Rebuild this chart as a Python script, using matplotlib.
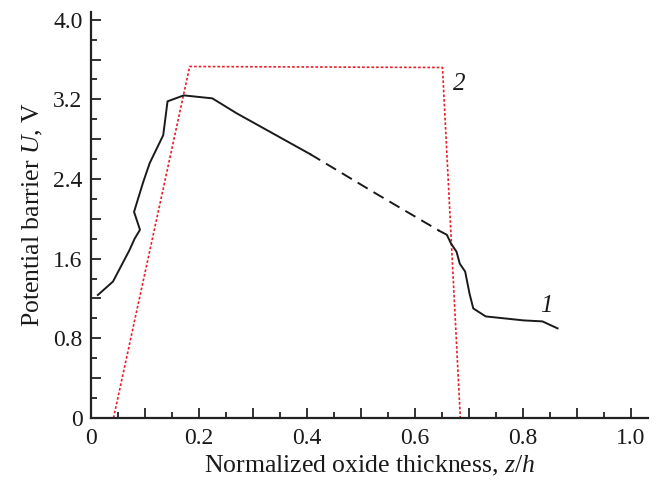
import matplotlib
matplotlib.use("Agg")
import matplotlib.pyplot as plt
from matplotlib.ticker import MultipleLocator, FuncFormatter

plt.rcParams["font.family"] = ["Liberation Serif"]
plt.rcParams["mathtext.fontset"] = "custom"
plt.rcParams["mathtext.rm"] = "Liberation Serif"
plt.rcParams["mathtext.it"] = "Liberation Serif:italic"

# Curve 1: computed potential barrier (solid, dashed middle part, solid)
z1_a = [0.013, 0.041, 0.071, 0.081, 0.091, 0.080, 0.097, 0.109, 0.134, 0.142,
        0.172, 0.225, 0.270, 0.406]
u1_a = [1.235, 1.37, 1.68, 1.80, 1.89, 2.07, 2.37, 2.56, 2.84, 3.18,
        3.24, 3.21, 3.06, 2.65]
z1_b = [0.406, 0.529, 0.645]
u1_b = [2.65, 2.25, 1.88]
z1_c = [0.645, 0.659, 0.667, 0.677, 0.683, 0.693, 0.701, 0.708, 0.731,
        0.801, 0.836, 0.864]
u1_c = [1.88, 1.84, 1.75, 1.67, 1.55, 1.47, 1.25, 1.10, 1.02,
        0.98, 0.97, 0.90]

# Curve 2: trapezoidal barrier
z2 = [0.042, 0.183, 0.651, 0.684]
u2 = [0.0, 3.53, 3.52, 0.0]

fig = plt.figure(figsize=(6.63, 4.86), dpi=100)
ax = fig.add_axes([0.137, 0.140, 0.840, 0.835])

ax.plot(z2, u2, color="#e8202a", lw=1.2, dashes=(1.6, 1.2))
ax.plot(z1_a, u1_a, color="#1a1a1a", lw=1.4, solid_joinstyle="round")
ax.plot(z1_b, u1_b, color="#1a1a1a", lw=1.4, dashes=(6.0, 3.5))
ax.plot(z1_c, u1_c, color="#1a1a1a", lw=1.4, solid_joinstyle="round")

ax.text(0.832, 1.06, "1", fontsize=18, style="italic", color="#1a1a1a")
ax.text(0.670, 3.29, "2", fontsize=18, style="italic", color="#1a1a1a")

ax.set_xlim(0, 1.031)
ax.set_ylim(0, 4.076)

for s in ("top", "right"):
    ax.spines[s].set_visible(False)
for s in ("left", "bottom"):
    ax.spines[s].set_linewidth(1.6)
    ax.spines[s].set_color("#222222")

ax.xaxis.set_major_locator(MultipleLocator(0.1))
ax.xaxis.set_minor_locator(MultipleLocator(0.05))
ax.yaxis.set_major_locator(MultipleLocator(0.4))
ax.yaxis.set_minor_locator(MultipleLocator(0.2))


def xfmt(v, pos):
    k = round(v * 10)
    if k % 2:
        return ""
    return "0" if k == 0 else f"{v:.1f}"


def yfmt(v, pos):
    k = round(v / 0.4)
    if k % 2:
        return ""
    return "0" if k == 0 else f"{v:.1f}"


ax.xaxis.set_major_formatter(FuncFormatter(xfmt))
ax.yaxis.set_major_formatter(FuncFormatter(yfmt))

ax.tick_params(which="both", direction="in", color="#222222", width=1.3,
               labelsize=17, labelcolor="#1a1a1a")
ax.tick_params(which="major", length=7)
ax.tick_params(which="minor", length=4)
ax.tick_params(axis="x", pad=7)
ax.tick_params(axis="y", pad=6)

ax.set_xlabel(r"Normalized oxide thickness, $\mathit{z}$/$\mathit{h}$",
              fontsize=18.5, color="#1a1a1a", labelpad=4)
ax.set_ylabel(r"Potential barrier $\mathit{U}$, V", fontsize=18.5,
              color="#1a1a1a", labelpad=6)

fig.savefig("out.png", dpi=100)
